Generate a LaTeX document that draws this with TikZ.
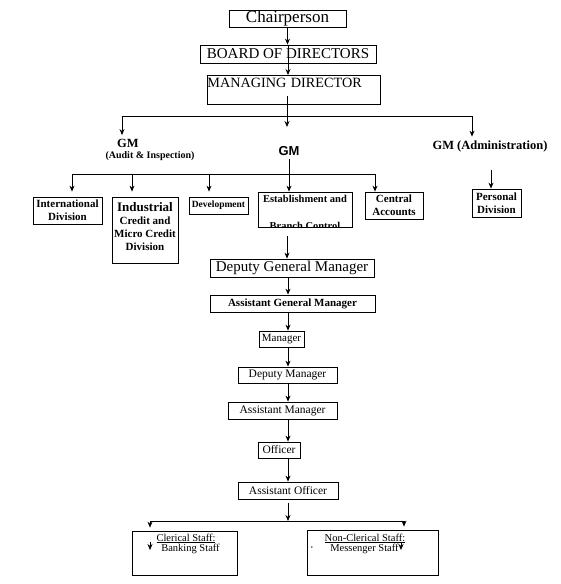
\documentclass[tikz,border=0pt]{standalone}
\usepackage{fontspec}
\setmainfont{Liberation Serif}
\newfontfamily\arialfont{Liberation Sans}
\usetikzlibrary{arrows.meta}

\newcommand{\setsz}[2]{\fontsize{#1}{#2}\selectfont}

\begin{document}
\begin{tikzpicture}[
        > = {Stealth[length=6pt, width=5pt]}, % arrow head style
        x = 1pt, y = -1pt, % one unit per pixel, y grows downwards
        line width = 0.8pt % line style
    ]

    \tikzstyle{box}=[
        draw = black,
        inner sep = 0pt,
        align = center
    ]
    \tikzstyle{head}=[font=\bfseries\setsz{11}{13}, align=center]

    \useasboundingbox (0,0) rectangle (560,584);

    % top of the chart
    \node[box, minimum width=117, minimum height=17, font=\setsz{17}{20}] (chair) at (287.5,18.5) {Chairperson};
    \node[box, minimum width=176, minimum height=18, font=\setsz{15}{18}] (board) at (288,54) {BOARD OF DIRECTORS};
    \node[box, anchor=north west, text width=173pt, align=left, text height=12pt, text depth=17pt, font=\setsz{14.2}{16}] (md) at (207,75) {MANAGING DIRECTOR};
    \coordinate (mdstub) at (287,96);
    \coordinate (bus) at (287,116);
    \coordinate (gmtip) at (287,127);

    % general managers
    \node[font=\bfseries\setsz{12.5}{14}] (gmaudit) at (128,143) {GM};
    \node[font=\bfseries\setsz{10}{12}] (gmauditsub) at (150,156) {(Audit \& Inspection)};
    \node[font=\arialfont\bfseries\setsz{13}{15}] (gm) at (289,151) {GM};
    \node[font=\bfseries\setsz{12.5}{14}] (gmadmin) at (490,146) {GM (Administration)};

    % divisions
    \node[box, head, minimum width=69, minimum height=27] (intl) at (67.5,210.5) {International\\Division};
    \node[box, minimum width=66, minimum height=66] (indus) at (145,230) {};
    \node[head, anchor=north, inner sep=0pt] (industext) at ([yshift=-5pt]indus.north) {{\setsz{13}{13}Industrial}\\Credit and\\Micro Credit\\Division};
    \node[box, minimum width=59, minimum height=17, font=\bfseries\setsz{9.5}{11}] (devel) at (218.5,205.5) {Development};
    \node[box, minimum width=94, minimum height=35] (estab) at (305,209.5) {};
    \begin{scope}
        \clip (estab.south west) rectangle (estab.north east);
        \node[head, anchor=north, inner sep=0pt, font=\bfseries\setsz{10.5}{12}] (estabtext) at ([yshift=-3pt]estab.north) {Establishment and\\[15pt]Branch Control};
    \end{scope}
    \node[box, head, minimum width=58, minimum height=27] (central) at (394,205.5) {Central\\Accounts};
    \node[box, head, minimum width=49, minimum height=28] (personal) at (496.5,203) {Personal\\Division};
    \coordinate (bus2) at (289,174);
    \coordinate (adminstub) at (491,170);
    \coordinate (estabstub) at (287,236);

    % chain of command
    \node[box, minimum width=164, minimum height=18, font=\setsz{15}{18}] (dgm) at (292,268) {Deputy General Manager};
    \node[box, minimum width=165, minimum height=17, font=\bfseries\setsz{11}{13}] (agm) at (292.5,303.5) {Assistant General Manager};
    \node[box, minimum width=45, minimum height=16, font=\setsz{11}{13}] (mgr) at (281.5,339) {Manager};
    \node[box, minimum width=99, minimum height=16, font=\setsz{11.5}{13}] (dmgr) at (287.5,375) {Deputy Manager};
    \node[box, minimum width=109, minimum height=17, font=\setsz{11.5}{13}] (amgr) at (282.5,410.5) {Assistant Manager};
    \node[box, minimum width=42, minimum height=16, font=\setsz{11.5}{13}] (officer) at (279,450) {Officer};
    \node[box, minimum width=100, minimum height=17, font=\setsz{11.5}{13}] (aofficer) at (288,490.5) {Assistant Officer};
    \coordinate (spine) at (288,0);

    % staff
    \coordinate (aostub) at (288,503);
    \coordinate (bus3) at (288,521);
    \node[box, minimum width=105, minimum height=44] (clerical) at (184.5,553) {};
    \node[box, minimum width=131, minimum height=45] (noncler) at (372.5,552.5) {};
    \node[anchor=base, font=\setsz{10.5}{12}] (clericalhead) at (186,541) {\underline{Clerical Staff:}};
    \node[anchor=base, font=\setsz{10.5}{12}] (banking) at (190.5,551) {Banking Staff};
    \node[anchor=base, font=\setsz{10.5}{12}] (nonclerhead) at (365,541) {\underline{Non-Clerical Staff:}};
    \node[anchor=base, font=\setsz{10.5}{12}] (messenger) at (364.5,551) {Messenger Staff};
    \node[font=\setsz{6}{6}] (bullet) at (312,548) {•};
    \coordinate (bankarrow) at (150,542);
    \coordinate (messarrow) at (401,542);

    % connectors
    \draw[->] (chair.south) -- (chair.south |- board.north);
    \draw[->] (board.north) -- (board.north |- md.north);
    \draw[->] (mdstub) -- (gmtip);
    \draw[->] (bus) -| ([xshift=-6pt]gmaudit.north);
    \draw[->] (bus) -| ([xshift=-18pt]gmadmin.north);
    \draw[->] (gm.south) -- (gm.south |- estab.north);
    \foreach \n/\s/\g in {intl/4.5/5, indus/-13/5, devel/-9.5/5, central/-19/0}
        \draw[->, shorten >=\g pt] (bus2) -| ([xshift=\s pt]\n.north);
    \draw[->] (adminstub) -- (adminstub |- personal.north);
    \draw[->] (estabstub) -- (estabstub |- dgm.north);
    \foreach \a/\b in {dgm/agm, agm/mgr, mgr/dmgr, dmgr/amgr, amgr/officer, officer/aofficer}
        \draw[->] (\a.south -| spine) -- (\b.north -| spine);
    \draw[->] (aostub) -- (bus3);
    \draw[->, shorten >=3pt] (bus3) -| ([xshift=-34.5pt]clerical.north);
    \draw[->, shorten >=3pt] (bus3) -| ([xshift=31.5pt]noncler.north);
    \draw[->, line width=0.6pt] (bankarrow) -- ++(0,8);
    \draw[->, line width=0.6pt] (messarrow) -- ++(0,8);

\end{tikzpicture}
\end{document}
